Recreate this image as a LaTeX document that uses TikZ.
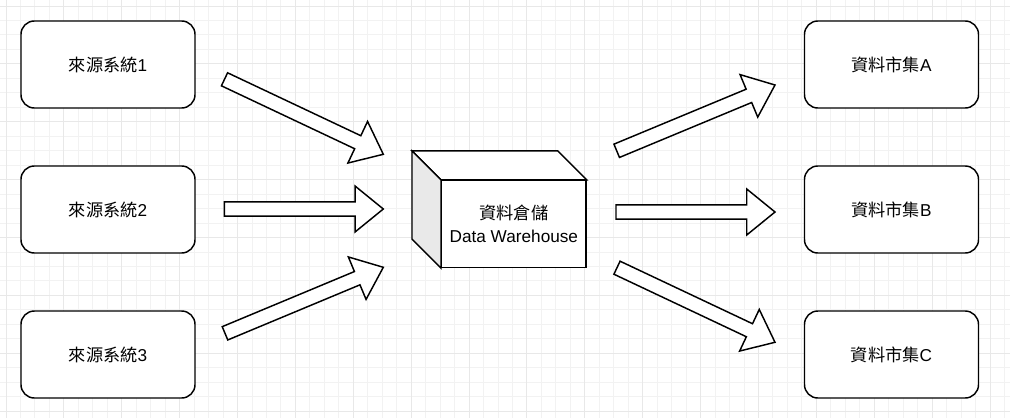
\documentclass[tikz,border=0pt]{standalone}
\usepackage{fontspec}
\setmainfont{Liberation Sans}
\newfontfamily\cjk{Noto Sans CJK TC}
\usetikzlibrary{calc,positioning}

\tikzset{
  gridminor/.style={draw=black!5, line width=0.7pt},
  gridmajor/.style={draw=black!9, line width=0.7pt},
}

\begin{document}
\begin{tikzpicture}[
    x=0.75pt, y=-0.75pt,
    node distance=42.4pt and 10pt,
    sysbox/.style={draw, rounded corners=10pt, fill=white, line width=1.1pt,
                minimum width=130.5pt, minimum height=65.25pt, align=center,
                font=\fontsize{12.9}{17.25}\selectfont},
    dwface/.style={draw, fill=white, line width=1.1pt, align=center,
                minimum width=108.2pt, minimum height=65pt,
                font=\fontsize{12.9}{17.25}\selectfont},
    fatarrow/.style={draw, fill=white, line width=1.1pt, line join=miter,
      to path={($(\tikztostart)!5.4pt!90:(\tikztotarget)$)
        -- ($(\tikztotarget)!21.2pt!(\tikztostart)!5.4pt!90:(\tikztotarget)$)
        -- ($(\tikztotarget)!21.2pt!(\tikztostart)!17.25pt!90:(\tikztotarget)$)
        -- (\tikztotarget)
        -- ($(\tikztotarget)!21.2pt!(\tikztostart)!17.25pt!-90:(\tikztotarget)$)
        -- ($(\tikztotarget)!21.2pt!(\tikztostart)!5.4pt!-90:(\tikztotarget)$)
        -- ($(\tikztostart)!5.4pt!-90:(\tikztotarget)$) -- cycle}}
]
\useasboundingbox (0,0) rectangle (1010,418);

% grid
\begin{scope}
\clip (0,0) rectangle (1010,418);
\fill[white] (0,0) rectangle (1010,418);
\foreach \i in {0,...,70} {\draw[gridminor] ({6+(\i-1)*14.47},0) -- ++(0,418);}
\foreach \j in {0,...,30} {\draw[gridminor] (0,{6+(\j-1)*14.47}) -- ++(1010,0);}
\foreach \i in {0,...,17} {\draw[gridmajor] ({6+\i*57.88},0) -- ++(0,418);}
\foreach \j in {0,...,7} {\draw[gridmajor] (0,{6+\j*57.88}) -- ++(1010,0);}
\end{scope}

% sources
\node[sysbox] (src1) at (108,64.5) {{\cjk 來源系統}1};
\node[sysbox, below=of src1] (src2) {{\cjk 來源系統}2};
\node[sysbox, below=of src2] (src3) {{\cjk 來源系統}3};

% data marts
\node[sysbox] (martA) at (891.5,64.5) {{\cjk 資料市集}A};
\node[sysbox, below=of martA] (martB) {{\cjk 資料市集}B};
\node[sysbox, below=of martB] (martC) {{\cjk 資料市集}C};

% warehouse cube
\node[dwface] (dw) at (513.85,224) {{\cjk 資料倉儲}\\Data Warehouse};
\draw[fill=white, line width=1.1pt, line join=miter] (dw.north west) -- +(-29,-29)
    -- ([shift={(-29,-29)}]dw.north east) -- (dw.north east) -- cycle;
\draw[fill=gray!17, line width=1.1pt, line join=miter] (dw.north west) -- +(-29,-29)
    -- ([shift={(-29,-29)}]dw.south west) -- (dw.south west) -- cycle;

% arrows
\coordinate (in1a) at (224.5,79.3);  \coordinate (in1b) at (383.3,154.3);
\coordinate (in2a) at (224.3,209);   \coordinate (in2b) at (383.3,209);
\coordinate (in3a) at (225,333.3);   \coordinate (in3b) at (383.3,267.3);
\coordinate (out1a) at (616.7,150.8); \coordinate (out1b) at (775,85);
\coordinate (out2a) at (616,212);     \coordinate (out2b) at (775,212);
\coordinate (out3a) at (617,267.7);   \coordinate (out3b) at (775,342.3);

\draw[fatarrow] (in1a) to (in1b);
\draw[fatarrow] (in2a) to (in2b);
\draw[fatarrow] (in3a) to (in3b);
\draw[fatarrow] (out1a) to (out1b);
\draw[fatarrow] (out2a) to (out2b);
\draw[fatarrow] (out3a) to (out3b);

\end{tikzpicture}
\end{document}
